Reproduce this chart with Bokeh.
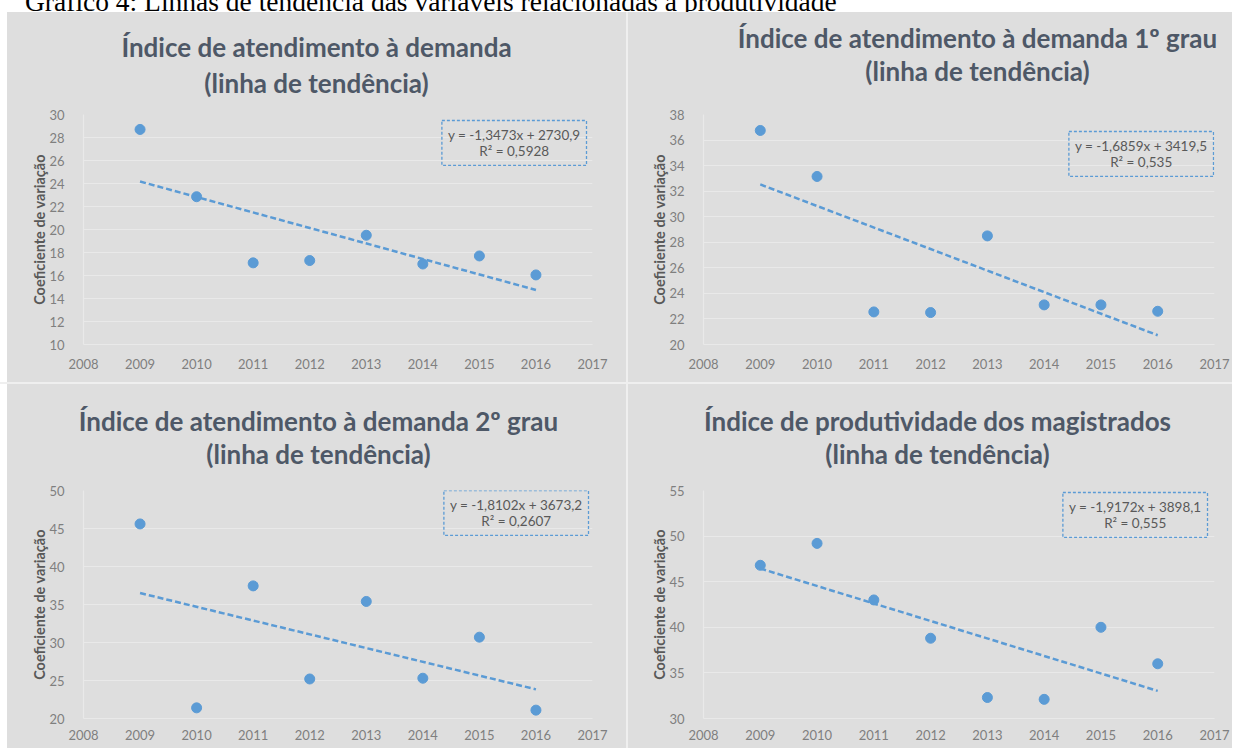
from bokeh.plotting import figure
from bokeh.models import Label, FixedTicker, Div
from bokeh.layouts import row, column
from bokeh.embed import file_html
from bokeh.resources import INLINE
from bokeh.core.properties import value

# ---------------- data ----------------
caption = "Gráfico 4: Linhas de tendência das variáveis relacionadas à produtividade"
years = [2009, 2010, 2011, 2012, 2013, 2014, 2015, 2016]
x_ticks = [2008, 2009, 2010, 2011, 2012, 2013, 2014, 2015, 2016, 2017]

titles = [
    "Índice de atendimento à demanda",
    "Índice de atendimento à demanda 1º grau",
    "Índice de atendimento à demanda 2º grau",
    "Índice de produtividade dos magistrados",
]
subtitle = "(linha de tendência)"
y_label = "Coeficiente de variação"

cv_demanda = [28.7, 22.85, 17.1, 17.3, 19.5, 17.0, 17.7, 16.05]
cv_demanda_1g = [36.75, 33.15, 22.55, 22.5, 28.5, 23.1, 23.1, 22.6]
cv_demanda_2g = [45.6, 21.4, 37.45, 25.2, 35.4, 25.3, 30.7, 21.1]
cv_produtividade = [46.8, 49.2, 43.0, 38.8, 32.3, 32.1, 40.0, 36.0]

slopes = [-1.3473, -1.6859, -1.8102, -1.9172]
intercepts = [2730.9, 3419.5, 3673.2, 3898.1]
r2_values = ["0,5928", "0,535", "0,2607", "0,555"]

y_min = [10, 20, 20, 30]
y_max = [30, 38, 50, 55]
y_step = [2, 2, 5, 5]

series = [cv_demanda, cv_demanda_1g, cv_demanda_2g, cv_produtividade]

# ---------------- style ----------------
BG = "#dedede"
GRID = "#e9e9e9"
SEP = "#efefef"
BLUE = "#5b9bd5"
TITLE_C = "#4e5867"
TEXT_C = "#595959"
TICK_C = "#7f7f7f"
FONT = "Lato"


def title_fig(i, w, h, cx, y1, y2):
    t = figure(width=w, height=h, x_range=(0, w), y_range=(0, h),
               output_backend="svg", toolbar_location=None,
               x_axis_type=None, y_axis_type=None, min_border=0)
    t.frame_align = False
    t.background_fill_color = BG
    t.border_fill_color = BG
    t.outline_line_color = None
    t.grid.visible = False
    t.text(x=[cx, cx], y=[y1, y2], text=[titles[i], subtitle],
           text_align="center", text_baseline="middle",
           text_font=value(FONT), text_font_size="26px", text_font_style="bold",
           text_color=TITLE_C)
    return t


def plot_fig(i, w, h, bl, br, bt, bb, box_dx, box_dy, xstand):
    p = figure(width=w, height=h, x_range=(2008, 2017), y_range=(y_min[i], y_max[i]),
               output_backend="svg", toolbar_location=None,
               min_border_left=bl, min_border_right=br,
               min_border_top=bt, min_border_bottom=bb)
    p.frame_align = False
    p.background_fill_color = BG
    p.border_fill_color = BG
    p.outline_line_color = None
    fw = w - bl - br
    fh = h - bt - bb

    yt = list(range(y_min[i], y_max[i] + 1, y_step[i]))
    p.xgrid.visible = False
    p.ygrid.ticker = FixedTicker(ticks=yt)
    p.ygrid.grid_line_color = GRID
    p.ygrid.grid_line_width = 1.2

    p.yaxis.ticker = FixedTicker(ticks=yt)
    p.xaxis.ticker = FixedTicker(ticks=x_ticks)
    for ax in (p.xaxis[0], p.yaxis[0]):
        ax.axis_line_color = GRID
        ax.axis_line_width = 1.2
        ax.major_tick_line_color = None
        ax.minor_tick_line_color = None
        ax.major_label_text_color = TICK_C
        ax.major_label_text_font = FONT
        ax.major_label_text_font_size = "13px"
    p.xaxis.major_label_standoff = xstand
    p.yaxis.major_label_standoff = 13
    p.yaxis.axis_label = y_label
    p.yaxis.axis_label_text_font = FONT
    p.yaxis.axis_label_text_font_size = "14.5px"
    p.yaxis.axis_label_text_font_style = "bold"
    p.yaxis.axis_label_text_color = TEXT_C
    p.yaxis.axis_label_standoff = -2

    vals = series[i]
    p.scatter(years, vals, size=10, color=BLUE)
    xs = [years[0], years[-1]]
    ys = [slopes[i] * x + intercepts[i] for x in xs]
    p.line(xs, ys, line_color=BLUE, line_width=2.5, line_dash="6 3")

    eq = "y = " + str(slopes[i]).replace(".", ",") + "x + " + str(intercepts[i]).replace(".", ",")
    eq_txt = eq + "\nR² = " + r2_values[i]
    p.add_layout(Label(x=fw - box_dx, y=fh - box_dy, x_units="screen", y_units="screen",
                       anchor="top_right", text=eq_txt, text_align="center",
                       text_font=FONT, text_font_size="13.5px", text_color=TEXT_C,
                       text_line_height=1.06,
                       border_line_color=BLUE, border_line_dash="3 2", border_line_width=1.3,
                       padding=(6, 6)))
    return p


# panel geometry (page pixels): left panels x 7..626, right panels x 628..1232
# top row y 12..382, bottom row y 384..748
t1 = title_fig(0, 619, 92, 309, 58, 22)
p1 = plot_fig(0, 619, 278, 76, 34, 10, 38, 6, 6, 8)
t2 = title_fig(1, 604, 92, 349, 67, 34)
p2 = plot_fig(1, 604, 278, 75, 18, 10, 38, 1, 17, 8)
t3 = title_fig(2, 619, 94, 311, 58, 25)
p3 = plot_fig(2, 619, 270, 76, 34, 12, 30, 4, 0, 5)
t4 = title_fig(3, 604, 94, 309, 58, 25)
p4 = plot_fig(3, 604, 270, 75, 18, 12, 30, 7, 2, 5)

cap = Div(text=('<div style="position:absolute; left:25px; top:-12px; white-space:nowrap; '
                'font-family:\'Liberation Serif\'; font-size:27.5px; line-height:27.5px; color:#000;">'
                + caption + '</div>'),
          width=1232, height=12, margin=0, styles={"overflow": "visible"})


def gap(w, h, color):
    return Div(text="", width=w, height=h, margin=0, styles={"background-color": color})


def panel(t, p):
    return column(t, p, styles={"background-color": BG})


row1 = row(gap(7, 370, "#ffffff"), panel(t1, p1), gap(2, 370, SEP), panel(t2, p2))
row2 = row(gap(7, 364, "#ffffff"), panel(t3, p3), gap(2, 364, SEP), panel(t4, p4))
layout = column(cap, row1, gap(1232, 2, SEP), row2)

open("out.html", "w").write(file_html(layout, INLINE))
